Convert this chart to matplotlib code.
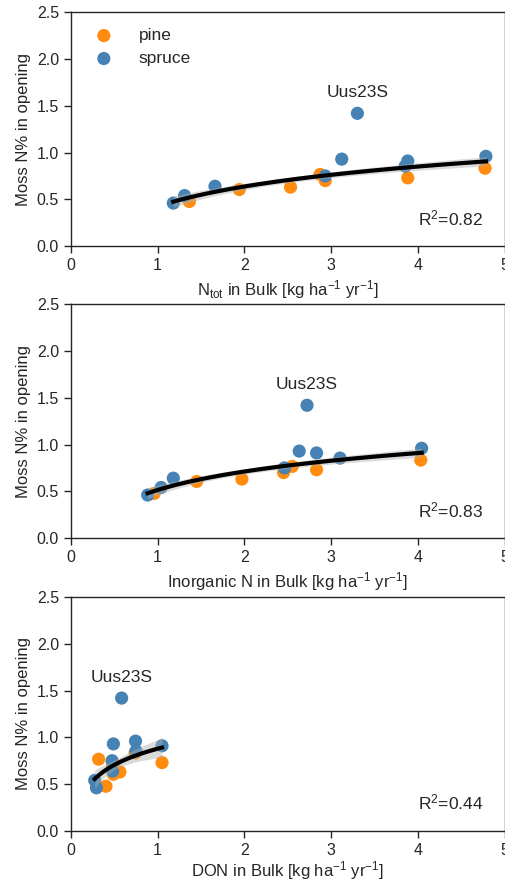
import matplotlib as mpl
mpl.use('Agg')
import matplotlib.pyplot as plt
import numpy as np

plt.rcParams['font.family'] = ['Liberation Sans', 'DejaVu Sans']
plt.rcParams['mathtext.default'] = 'regular'
plt.rcParams['text.color'] = '#262626'
plt.rcParams['axes.labelcolor'] = '#262626'
plt.rcParams['xtick.color'] = '#262626'
plt.rcParams['ytick.color'] = '#262626'

# moss N% in opening
pine_moss = [0.477, 0.605, 0.63, 0.766, 0.70, 0.73, 0.833]
spruce_moss = [0.46, 0.54, 0.64, 0.75, 0.93, 1.42, 0.855, 0.91, 0.96]
outlier_idx = 5  # Uus23S, spruce

# deposition in bulk
pine_ntot = [1.365, 1.94, 2.53, 2.87, 2.93, 3.88, 4.77]
spruce_ntot = [1.18, 1.31, 1.66, 2.93, 3.12, 3.30, 3.85, 3.88, 4.78]
pine_inorg = [0.96, 1.45, 1.97, 2.55, 2.45, 2.83, 4.03]
spruce_inorg = [0.885, 1.04, 1.18, 2.46, 2.63, 2.72, 3.10, 2.83, 4.04]
pine_don = [0.405, 0.49, 0.565, 0.32, 0.48, 1.05, 0.74]
spruce_don = [0.295, 0.275, 0.48, 0.475, 0.49, 0.585, 0.75, 1.05, 0.745]

xlabels = ['N$_{tot}$ in Bulk [kg ha$^{\u2212\!1}$ yr$^{\u2212\!1}$]',
           'Inorganic N in Bulk [kg ha$^{\u2212\!1}$ yr$^{\u2212\!1}$]',
           'DON in Bulk [kg ha$^{\u2212\!1}$ yr$^{\u2212\!1}$]']
xlabels = [l.replace('\u2212\\!', '-') for l in xlabels]
r2_texts = ['0.82', '0.83', '0.44']
xdata = [(pine_ntot, spruce_ntot), (pine_inorg, spruce_inorg), (pine_don, spruce_don)]

c_pine = '#ff8c0f'
c_spruce = '#4682b4'

fig = plt.figure(figsize=(5.06, 8.82), dpi=100)
bottoms = [0.721, 0.390, 0.058]

for i in range(3):
  ax = fig.add_axes([0.140, bottoms[i], 0.858, 0.265])
  px, sx = xdata[i]
  ax.scatter(px, pine_moss, s=90, color=c_pine, edgecolor='none', label='pine', zorder=3)
  ax.scatter(sx, spruce_moss, s=90, color=c_spruce, edgecolor='none', label='spruce', zorder=3)

  #---- log fit without the outlier
  xs = np.array(px + [v for k, v in enumerate(sx) if k != outlier_idx])
  ys = np.array(pine_moss + [v for k, v in enumerate(spruce_moss) if k != outlier_idx])
  lx = np.log(xs)
  b, a = np.polyfit(lx, ys, 1)
  grid = np.linspace(xs.min(), xs.max(), 100)
  lg = np.log(grid)
  fit = a + b*lg
  n = len(xs)
  resid = ys - (a + b*lx)
  s = np.sqrt(np.sum(resid**2)/(n-2))
  se = s*np.sqrt(1.0/n + (lg-lx.mean())**2/np.sum((lx-lx.mean())**2))
  ax.fill_between(grid, fit-1.6*se, fit+1.6*se, color='#b0b0b0', alpha=0.45, lw=0, zorder=4)
  ax.plot(grid, fit, color='black', lw=3, zorder=5)

  ax.annotate('Uus23S', xy=(sx[outlier_idx], spruce_moss[outlier_idx]), xytext=(0, 15),
              textcoords='offset points', ha='center', va='center', fontsize=12.5)
  ax.text(0.80, 0.12, 'R$^{2}$=' + r2_texts[i], transform=ax.transAxes, fontsize=12.5, va='center')

  ax.set_xlim(0, 5)
  ax.set_ylim(0, 2.5)
  ax.set_xticks([0, 1, 2, 3, 4, 5])
  ax.set_yticks([0.0, 0.5, 1.0, 1.5, 2.0, 2.5])
  ax.set_yticklabels(['0.0', '0.5', '1.0', '1.5', '2.0', '2.5'])
  ax.tick_params(labelsize=11.5, direction='out', length=5, width=1)
  for sp in ax.spines.values():
    sp.set_color('#262626')
    sp.set_linewidth(1)
  ax.set_xlabel(xlabels[i], fontsize=12, labelpad=(1 if i == 2 else 4))
  ax.set_ylabel('Moss N% in opening', fontsize=12)
  if i == 0:
    ax.legend(loc='upper left', frameon=False, fontsize=12.5, handletextpad=1.0,
              borderaxespad=0.5, labelspacing=0.45, scatterpoints=1)

plt.savefig('out.png', dpi=100)
